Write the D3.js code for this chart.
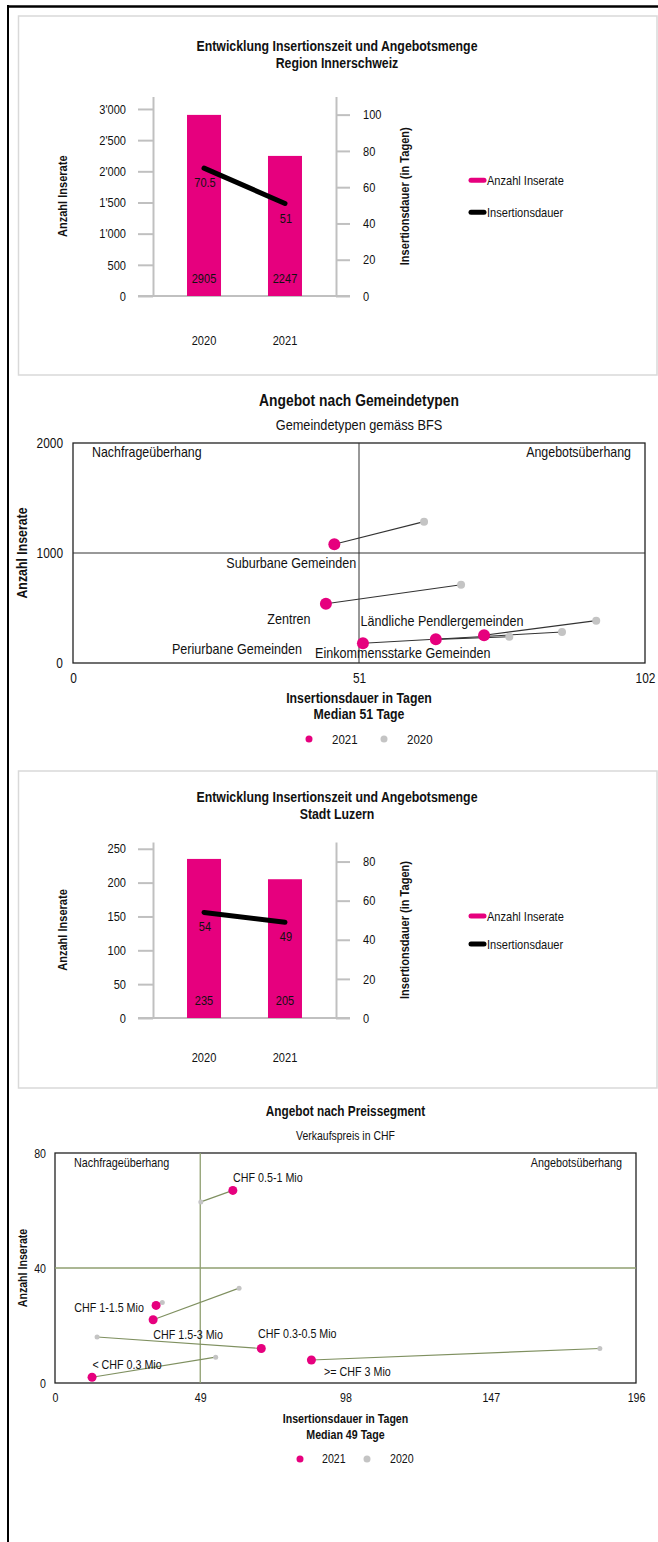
<!DOCTYPE html>
<html>
<head>
<meta charset="utf-8">
<script src="https://cdn.jsdelivr.net/npm/d3@7"></script>
<style>
  body { margin: 0; background: #fff; }
  svg text { font-family: "Liberation Sans", Arial, sans-serif; fill: #111; }
</style>
</head>
<body>
<script>

// --- Daten ---
var years = ["2020", "2021"];

var regionInserate = [2905, 2247];
var regionDauer = [70.5, 51];
var regionLeftTicks = [0, 500, 1000, 1500, 2000, 2500, 3000];
var regionRightTicks = [0, 20, 40, 60, 80, 100];

var luzernInserate = [235, 205];
var luzernDauer = [54, 49];
var luzernLeftTicks = [0, 50, 100, 150, 200, 250];
var luzernRightTicks = [0, 20, 40, 60, 80];

var gemeindeTypen = ["Suburbane Gemeinden", "Zentren", "Periurbane Gemeinden", "Einkommensstarke Gemeinden", "Ländliche Pendlergemeinden"];
var gemeindeDauer2021 = [46.6, 45.1, 51.7, 64.7, 73.3];
var gemeindeInserate2021 = [1079, 539, 179, 215, 252];
var gemeindeDauer2020 = [62.6, 69.2, 87.2, 77.8, 93.3];
var gemeindeInserate2020 = [1285, 712, 282, 239, 385];
var gemeindeXTicks = [0, 51, 102];
var gemeindeYTicks = [0, 1000, 2000];
var gemeindeMedianDauer = 51;
var gemeindeMitteInserate = 1000;

var preisSegmente = ["CHF 0.5-1 Mio", "CHF 1-1.5 Mio", "CHF 1.5-3 Mio", "CHF 0.3-0.5 Mio", "< CHF 0.3 Mio", ">= CHF 3 Mio"];
var preisDauer2021 = [60.0, 34.1, 33.1, 69.6, 12.5, 86.5];
var preisInserate2021 = [67, 27, 22, 12, 2, 8];
var preisDauer2020 = [49.2, 36.2, 62.1, 14.2, 54.2, 183.8];
var preisInserate2020 = [63, 28, 33, 16, 9, 12];
var preisXTicks = [0, 49, 98, 147, 196];
var preisYTicks = [0, 40, 80];
var preisMedianDauer = 49;
var preisMitteInserate = 40;

// label offsets (px) relative to the 2021 point
var gemeindeLabelOffset = [[-43, 19], [-37, 15], [-126, 6], [-33, 13], [-42, -14]];
var preisLabelOffset = [[35, -13], [-47, 2], [35, 15], [36, -15], [35, -13], [46, 12]];

var pink = "#e6007e";
var grey = "#c4c4c4";
var axisGrey = "#c0c0c0";
var narrow = 0.85; // Arial-Narrow-Look

var width = 658, height = 1542;

var svg = d3.select("body").append("svg")
    .attr("width", width)
    .attr("height", height);

// outer frame
svg.append("line").attr("x1", 7).attr("x2", width).attr("y1", 6.5).attr("y2", 6.5)
    .attr("stroke", "#000").attr("stroke-width", 2.5);
svg.append("line").attr("x1", 8).attr("x2", 8).attr("y1", 5).attr("y2", height)
    .attr("stroke", "#000").attr("stroke-width", 2);

var apos = d3.formatLocale({decimal: ".", thousands: "'", grouping: [3], currency: ["", ""]}).format(",d");

function drawCombo(o) {
  svg.append("rect")
      .attr("x", 18.5).attr("y", o.boxTop).attr("width", 638.5).attr("height", o.boxBottom - o.boxTop)
      .attr("fill", "none").attr("stroke", "#d9d9d9").attr("stroke-width", 1.5);

  var g = svg.append("g");

  g.append("text").attr("x", 337).attr("y", o.titleY).attr("text-anchor", "middle")
      .style("font-size", "14.5px").style("font-weight", "bold").text("Entwicklung Insertionszeit und Angebotsmenge");
  g.append("text").attr("x", 337).attr("y", o.titleY + 17).attr("text-anchor", "middle")
      .style("font-size", "14.5px").style("font-weight", "bold").text(o.subtitle);

  var x = d3.scalePoint().domain(years).range([153, 336]).padding(0.63);
  var yL = d3.scaleLinear().domain([0, o.leftMax]).range([o.axisBottom, o.axisTop]);
  var yR = d3.scaleLinear().domain([0, o.rightMax]).range([o.axisBottom, o.axisTop]);

  var left = g.append("g").attr("transform", "translate(153,0)")
      .call(d3.axisLeft(yL).tickValues(o.leftTicks).tickSize(15).tickSizeOuter(0).tickPadding(12).tickFormat(apos));
  var right = g.append("g").attr("transform", "translate(336,0)")
      .call(d3.axisRight(yR).tickValues(o.rightTicks).tickSize(14).tickSizeOuter(0).tickPadding(13));
  [left, right].forEach(function(a) {
    a.select(".domain").attr("stroke", axisGrey).attr("stroke-width", 2);
    a.selectAll(".tick line").attr("stroke", axisGrey).attr("stroke-width", 2);
    a.selectAll(".tick text").style("font-size", "13px").attr("fill", "#111")
        .style("font-family", "'Liberation Sans', Arial, sans-serif");
  });

  g.append("line").attr("x1", 138).attr("x2", 350).attr("y1", o.axisBottom).attr("y2", o.axisBottom)
      .attr("stroke", axisGrey).attr("stroke-width", 2);

  var bw = 34;
  g.selectAll("rect.bar").data(o.inserate).enter().append("rect")
      .attr("class", "bar")
      .attr("x", function(d, i) { return x(years[i]) - bw / 2; })
      .attr("y", function(d) { return yL(d); })
      .attr("width", bw)
      .attr("height", function(d) { return o.axisBottom - yL(d); })
      .attr("fill", pink);

  g.selectAll("text.barlab").data(o.inserate).enter().append("text")
      .attr("class", "barlab")
      .attr("x", function(d, i) { return x(years[i]); })
      .attr("y", o.axisBottom - 13)
      .attr("text-anchor", "middle")
      .style("font-size", "13px")
      .text(function(d) { return d; });

  var line = d3.line()
      .x(function(d, i) { return x(years[i]); })
      .y(function(d) { return yR(d); });
  g.append("path").datum(o.dauer).attr("d", line)
      .attr("fill", "none").attr("stroke", "#000").attr("stroke-width", 5).attr("stroke-linecap", "round");

  g.selectAll("text.linelab").data(o.dauer).enter().append("text")
      .attr("class", "linelab")
      .attr("x", function(d, i) { return x(years[i]) + 1; })
      .attr("y", function(d) { return yR(d) + 19; })
      .attr("text-anchor", "middle")
      .style("font-size", "13px")
      .text(function(d) { return d; });

  g.selectAll("text.xlab").data(years).enter().append("text")
      .attr("class", "xlab")
      .attr("x", function(d) { return x(d); })
      .attr("y", o.xLabelY)
      .attr("text-anchor", "middle")
      .style("font-size", "13px")
      .text(function(d) { return d; });

  var mid = (o.axisTop + o.axisBottom) / 2;
  g.append("text").attr("transform", "translate(67," + mid + ") rotate(-90)")
      .attr("text-anchor", "middle").style("font-size", "13px").style("font-weight", "bold")
      .text("Anzahl Inserate");
  g.append("text").attr("transform", "translate(409," + mid + ") rotate(-90)")
      .attr("text-anchor", "middle").style("font-size", "13px").style("font-weight", "bold")
      .text("Insertionsdauer (in Tagen)");

  var leg = [{label: "Anzahl Inserate", color: pink, dy: -o.legendGap}, {label: "Insertionsdauer", color: "#000", dy: o.legendGap}];
  leg.forEach(function(l) {
    g.append("line").attr("x1", 471).attr("x2", 484).attr("y1", mid + l.dy).attr("y2", mid + l.dy)
        .attr("stroke", l.color).attr("stroke-width", 5).attr("stroke-linecap", "round");
    g.append("text").attr("x", 487).attr("y", mid + l.dy + 4.5)
        .style("font-size", "13px").text(l.label);
  });
}

function drawScatter(o) {
  var g = svg.append("g");
  var x = d3.scaleLinear().domain([0, o.xTicks[o.xTicks.length - 1]]).range([o.left, o.right]);
  var y = d3.scaleLinear().domain([0, o.yTicks[o.yTicks.length - 1]]).range([o.bottom, o.top]);
  var cx = (o.left + o.right) / 2;

  g.append("text").attr("x", cx).attr("y", o.top - 37).attr("text-anchor", "middle")
      .style("font-size", o.titleSize).style("font-weight", "bold").text(o.title);
  g.append("text").attr("x", cx).attr("y", o.top - 13).attr("text-anchor", "middle")
      .style("font-size", o.subSize).text(o.subtitle);

  g.append("rect").attr("x", o.left).attr("y", o.top).attr("width", o.right - o.left).attr("height", o.bottom - o.top)
      .attr("fill", "none").attr("stroke", "#222").attr("stroke-width", 1.3);

  g.append("line").attr("x1", x(o.medX)).attr("x2", x(o.medX)).attr("y1", o.top).attr("y2", o.bottom)
      .attr("stroke", o.medColor).attr("stroke-width", o.medWidth);
  g.append("line").attr("x1", o.left).attr("x2", o.right).attr("y1", y(o.medY)).attr("y2", y(o.medY))
      .attr("stroke", o.medColor).attr("stroke-width", o.medWidth);

  var xa = g.append("g").attr("transform", "translate(0," + o.bottom + ")")
      .call(d3.axisBottom(x).tickValues(o.xTicks).tickSize(0).tickPadding(10).tickFormat(d3.format("d")));
  var ya = g.append("g").attr("transform", "translate(" + o.left + ",0)")
      .call(d3.axisLeft(y).tickValues(o.yTicks).tickSize(0).tickPadding(o.yPad).tickFormat(d3.format("d")));
  [xa, ya].forEach(function(a) {
    a.select(".domain").remove();
    a.selectAll(".tick text").style("font-size", o.tickSize).attr("fill", "#111")
        .style("font-family", "'Liberation Sans', Arial, sans-serif");
  });

  g.append("text").attr("x", o.left + 19).attr("y", o.top + 14).style("font-size", o.quadSize).text("Nachfrageüberhang");
  g.append("text").attr("x", o.right - 14).attr("y", o.top + 14).attr("text-anchor", "end").style("font-size", o.quadSize).text("Angebotsüberhang");

  g.append("text").attr("transform", "translate(27," + ((o.top + o.bottom) / 2) + ") rotate(-90)")
      .attr("text-anchor", "middle").style("font-size", o.axTitleSize).style("font-weight", "bold").text("Anzahl Inserate");
  g.append("text").attr("x", cx).attr("y", o.bottom + 40).attr("text-anchor", "middle")
      .style("font-size", o.axTitleSize).style("font-weight", "bold").text("Insertionsdauer in Tagen");
  g.append("text").attr("x", cx).attr("y", o.bottom + 56).attr("text-anchor", "middle")
      .style("font-size", o.axTitleSize).style("font-weight", "bold").text(o.medianText);

  var pts = o.names.map(function(n, i) {
    return {name: n, x1: o.d21[i], y1: o.n21[i], x0: o.d20[i], y0: o.n20[i], off: o.offsets[i]};
  });

  g.selectAll("line.conn").data(pts).enter().append("line")
      .attr("class", "conn")
      .attr("x1", function(d) { return x(d.x1); })
      .attr("y1", function(d) { return y(d.y1); })
      .attr("x2", function(d) { return x(d.x0); })
      .attr("y2", function(d) { return y(d.y0); })
      .attr("stroke", o.connColor).attr("stroke-width", 1.1);

  g.selectAll("circle.p20").data(pts).enter().append("circle")
      .attr("class", "p20")
      .attr("cx", function(d) { return x(d.x0); })
      .attr("cy", function(d) { return y(d.y0); })
      .attr("r", o.r20).attr("fill", grey);

  g.selectAll("circle.p21").data(pts).enter().append("circle")
      .attr("class", "p21")
      .attr("cx", function(d) { return x(d.x1); })
      .attr("cy", function(d) { return y(d.y1); })
      .attr("r", o.r21).attr("fill", pink);

  g.selectAll("text.plab").data(pts).enter().append("text")
      .attr("class", "plab")
      .attr("x", function(d) { return x(d.x1) + d.off[0]; })
      .attr("y", function(d) { return y(d.y1) + d.off[1]; })
      .attr("dy", "0.35em")
      .attr("text-anchor", "middle")
      .style("font-size", o.labSize)
      .text(function(d) { return d.name; });

  var ly = o.bottom + 76;
  g.append("circle").attr("cx", cx + o.leg[0]).attr("cy", ly).attr("r", 3.5).attr("fill", pink);
  g.append("text").attr("x", cx + o.leg[1]).attr("y", ly).attr("dy", "0.35em").style("font-size", o.legSize).text("2021");
  g.append("circle").attr("cx", cx + o.leg[2]).attr("cy", ly).attr("r", 3.5).attr("fill", grey);
  g.append("text").attr("x", cx + o.leg[3]).attr("y", ly).attr("dy", "0.35em").style("font-size", o.legSize).text("2020");
}

drawCombo({
  boxTop: 16, boxBottom: 375, titleY: 51, subtitle: "Region Innerschweiz",
  axisTop: 96.5, axisBottom: 296, leftMax: 3200, rightMax: 110,
  leftTicks: regionLeftTicks, rightTicks: regionRightTicks,
  inserate: regionInserate, dauer: regionDauer, xLabelY: 345, legendGap: 16
});

drawScatter({
  left: 73, right: 645, top: 443, bottom: 663,
  xTicks: gemeindeXTicks, yTicks: gemeindeYTicks, medX: gemeindeMedianDauer, medY: gemeindeMitteInserate,
  medColor: "#333", medWidth: 1, connColor: "#333",
  title: "Angebot nach Gemeindetypen", subtitle: "Gemeindetypen gemäss BFS", medianText: "Median 51 Tage",
  names: gemeindeTypen, d21: gemeindeDauer2021, n21: gemeindeInserate2021, d20: gemeindeDauer2020, n20: gemeindeInserate2020,
  offsets: gemeindeLabelOffset, r21: 6, r20: 4,
  titleSize: "16.3px", subSize: "15px", tickSize: "14px", quadSize: "14.6px", labSize: "14.8px", axTitleSize: "14.5px", legSize: "13.5px",
  yPad: 10, leg: [-50, -27, 25, 48]
});

drawCombo({
  boxTop: 771, boxBottom: 1088, titleY: 802, subtitle: "Stadt Luzern",
  axisTop: 842, axisBottom: 1018, leftMax: 260, rightMax: 90,
  leftTicks: luzernLeftTicks, rightTicks: luzernRightTicks,
  inserate: luzernInserate, dauer: luzernDauer, xLabelY: 1062, legendGap: 14
});

drawScatter({
  left: 55, right: 636, top: 1153, bottom: 1383,
  xTicks: preisXTicks, yTicks: preisYTicks, medX: preisMedianDauer, medY: preisMitteInserate,
  medColor: "#8f9f70", medWidth: 1.3, connColor: "#7f9060",
  title: "Angebot nach Preissegment", subtitle: "Verkaufspreis in CHF", medianText: "Median 49 Tage",
  names: preisSegmente, d21: preisDauer2021, n21: preisInserate2021, d20: preisDauer2020, n20: preisInserate2020,
  offsets: preisLabelOffset, r21: 4.5, r20: 2.5,
  titleSize: "13.9px", subSize: "12.3px", tickSize: "12.5px", quadSize: "12.7px", labSize: "12.6px", axTitleSize: "12.5px", legSize: "12.5px",
  yPad: 9, leg: [-45.5, -23.5, 21.5, 44.5]
});

// schmale Schrift nachbilden
svg.selectAll("text").each(function() {
  var len = this.getComputedTextLength();
  if (len > 0) d3.select(this).attr("textLength", len * narrow).attr("lengthAdjust", "spacingAndGlyphs");
});

</script>
</body>
</html>
